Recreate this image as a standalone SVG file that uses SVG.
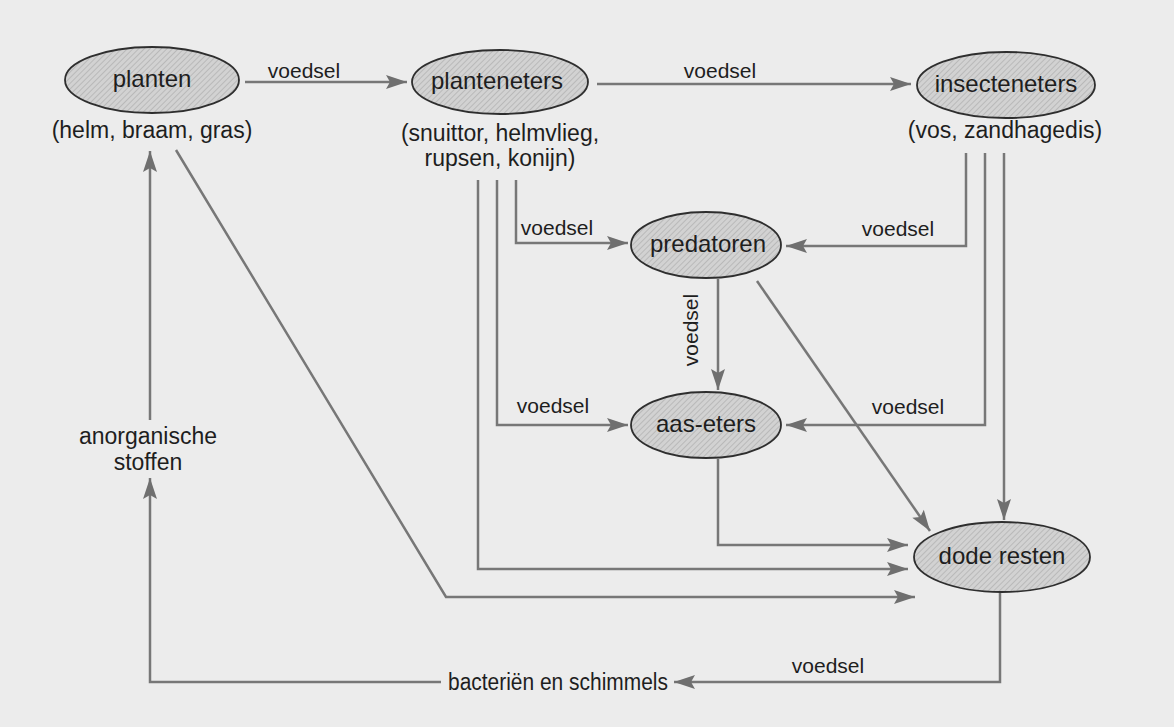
<svg xmlns="http://www.w3.org/2000/svg" width="1174" height="727" viewBox="0 0 1174 727">
<style>
.bg{fill:#ececec}
.node{fill:url(#hatch);stroke:#2e2e2e;stroke-width:1.8}
.t{font-family:"Liberation Sans",Arial,sans-serif;font-size:24px;fill:#1e1e1e;text-anchor:middle;dominant-baseline:central}
.s{font-family:"Liberation Sans",Arial,sans-serif;font-size:23px;fill:#1e1e1e;text-anchor:middle;dominant-baseline:central}
.lbl{font-family:"Liberation Sans",Arial,sans-serif;font-size:21px;fill:#1e1e1e;text-anchor:middle;dominant-baseline:central}
.c{fill:none;stroke:#777;stroke-width:2.5}
.a{marker-end:url(#arr)}
</style>
<defs>
<pattern id="hatch" width="4" height="4" patternUnits="userSpaceOnUse" patternTransform="rotate(45)">
<rect width="4" height="4" fill="#d2d2d2"/>
<line x1="0" y1="0" x2="0" y2="4" stroke="#a9a9a9" stroke-width="1.2"/>
</pattern>
<marker id="arr" markerUnits="userSpaceOnUse" markerWidth="24" markerHeight="16" refX="21" refY="7" orient="auto" overflow="visible">
<path d="M0,0 L21,7 L0,14 L4,7 z" fill="#6f6f6f"/>
</marker>
</defs>
<rect class="bg" x="0" y="0" width="1174" height="727"/>

<g id="connectors">
<path class="c a" d="M245,82 H407"/>
<path class="c a" d="M597,84 H911"/>
<path class="c a" d="M516,180 V243 H628"/>
<path class="c a" d="M497,180 V425 H628"/>
<path class="c a" d="M478,180 V569 H908"/>
<path class="c a" d="M966,153 V246 H786"/>
<path class="c a" d="M985,153 V425 H786"/>
<path class="c a" d="M1004,153 V520"/>
<path class="c a" d="M718,279 V390"/>
<path class="c a" d="M757,281 L930,531"/>
<path class="c a" d="M718,459 V545 H908"/>
<path class="c a" d="M176,150 L446,597 H915"/>
<path class="c a" d="M1000,592 V682 H674"/>
<path class="c a" d="M441,682 H150 V478"/>
<path class="c a" d="M150,420 V151"/>
<text class="lbl" x="304" y="70">voedsel</text>
<text class="lbl" x="720" y="70">voedsel</text>
<text class="lbl" x="557" y="227">voedsel</text>
<text class="lbl" x="898" y="228">voedsel</text>
<text class="lbl" x="690" y="330" transform="rotate(-90 690 330)">voedsel</text>
<text class="lbl" x="553" y="405">voedsel</text>
<text class="lbl" x="908" y="406">voedsel</text>
<text class="lbl" x="828" y="665">voedsel</text>
</g>

<g id="planten">
<ellipse class="node" cx="152" cy="80" rx="87" ry="33"/>
<text class="t" x="152" y="78">planten</text>
<text class="s" x="152" y="130">(helm, braam, gras)</text>
</g>
<g id="planteneters">
<ellipse class="node" cx="500" cy="82" rx="88" ry="32"/>
<text class="t" x="497" y="80">planteneters</text>
<text class="s" x="500" y="133">(snuittor, helmvlieg,</text>
<text class="s" x="500" y="158">rupsen, konijn)</text>
</g>
<g id="insecteneters">
<ellipse class="node" cx="1006" cy="85" rx="89" ry="33"/>
<text class="t" x="1006" y="83">insecteneters</text>
<text class="s" x="1005" y="130">(vos, zandhagedis)</text>
</g>
<g id="predatoren">
<ellipse class="node" cx="706" cy="245" rx="75" ry="33"/>
<text class="t" x="708" y="243">predatoren</text>
</g>
<g id="aas-eters">
<ellipse class="node" cx="706" cy="425" rx="75" ry="33"/>
<text class="t" x="706" y="423">aas-eters</text>
</g>
<g id="dode-resten">
<ellipse class="node" cx="1002" cy="557" rx="88" ry="35"/>
<text class="t" x="1002" y="555">dode resten</text>
</g>
<g id="bacterien">
<text class="s" x="558" y="682" textLength="220" lengthAdjust="spacingAndGlyphs">bacteriën en schimmels</text>
</g>
<g id="anorganische">
<text class="s" x="148" y="436">anorganische</text>
<text class="s" x="148" y="462">stoffen</text>
</g>
</svg>
